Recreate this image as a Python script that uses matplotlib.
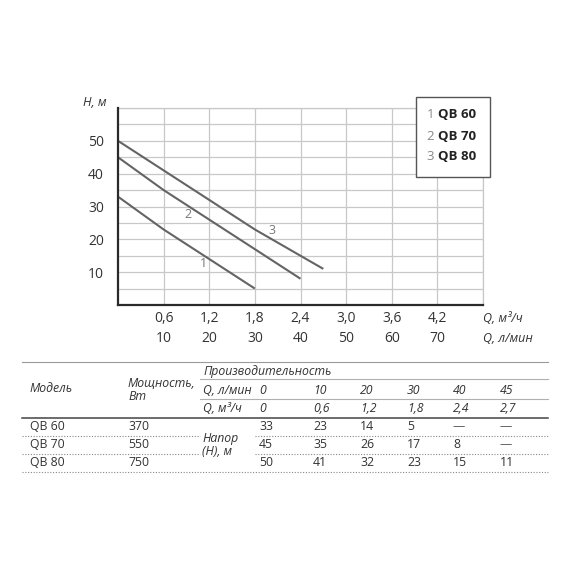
import numpy as np
import matplotlib
matplotlib.use("Agg")
import matplotlib.pyplot as plt
from matplotlib.ticker import MultipleLocator, FixedLocator
from matplotlib.lines import Line2D
from matplotlib.patches import Rectangle

plt.rcParams['font.family'] = ['Open Sans', 'DejaVu Sans']

# data (from the table under the chart)
models = ["QB 60", "QB 70", "QB 80"]
power = [370, 550, 750]
q_lmin = [0, 10, 20, 30, 40, 45]
q_m3h = [0, 0.6, 1.2, 1.8, 2.4, 2.7]
head = [[33, 23, 14, 5, None, None],
        [45, 35, 26, 17, 8, None],
        [50, 41, 32, 23, 15, 11]]

x_ticks = [0.6, 1.2, 1.8, 2.4, 3.0, 3.6, 4.2]
x_ticks_lmin = [10, 20, 30, 40, 50, 60, 70]
y_ticks = [10, 20, 30, 40, 50]

W = H = 570
fig = plt.figure(figsize=(5.7, 5.7), dpi=100)
fig.patch.set_facecolor("white")

def fx(px):
    return px / W

def fy(py):
    return 1 - py / H

txt = "#333333"
line_col = "#646464"

# ---- chart ----
ax = fig.add_axes([fx(118), fy(305), fx(483) - fx(118), fy(108) - fy(305)])
ax.set_xlim(0, 4.8)
ax.set_ylim(0, 60)

for i, h in enumerate(head):
    xs = [q for q, v in zip(q_m3h, h) if v is not None]
    ys = [v for v in h if v is not None]
    ax.plot(xs, ys, color=line_col, lw=1.5, solid_capstyle="butt")

# curve numbers
for lbl, (lx, ly) in zip(["1", "2", "3"], [(1.12, 12.5), (0.92, 27.5), (2.02, 22.8)]):
    ax.text(lx, ly, lbl, color="#777777", fontsize=9, ha="center", va="center")

ax.xaxis.set_major_locator(FixedLocator(x_ticks))
ax.set_xticklabels(["%s\n%d" % (("%.1f" % q).replace(".", ","), l)
                    for q, l in zip(x_ticks, x_ticks_lmin)],
                   linespacing=1.45)
ax.xaxis.set_minor_locator(FixedLocator([4.8]))
ax.yaxis.set_major_locator(FixedLocator(y_ticks))
ax.yaxis.set_minor_locator(MultipleLocator(5))
ax.tick_params(which="both", length=0, labelsize=10, labelcolor=txt)
ax.tick_params(axis="x", pad=4)
ax.tick_params(axis="y", pad=10)
ax.grid(which="both", color="#c8c8c8", lw=0.9)
ax.set_axisbelow(True)
for s in ["top", "right"]:
    ax.spines[s].set_visible(False)
for s in ["left", "bottom"]:
    ax.spines[s].set_color("#2a2a2a")
    ax.spines[s].set_linewidth(1.6)
# outer grid edges
ax.axhline(60, color="#c8c8c8", lw=0.9, clip_on=False)
ax.axvline(4.8, color="#c8c8c8", lw=0.9, clip_on=False)

fig.text(fx(95), fy(103), "H, м", fontsize=9, style="italic", color=txt,
         ha="center", va="center")
fig.text(fx(483), fy(319), "Q, м³/ч", fontsize=9, style="italic", color=txt,
         ha="left", va="center")
fig.text(fx(483), fy(339), "Q, л/мин", fontsize=9, style="italic", color=txt,
         ha="left", va="center")

# legend box
fig.patches.append(Rectangle((fx(416), fy(177)), fx(490) - fx(416), fy(97) - fy(177),
                             transform=fig.transFigure, facecolor="white",
                             edgecolor="#555555", lw=1.0, zorder=5))
for i, m in enumerate(models):
    yy = fy(115 + 21 * i)
    fig.text(fx(434), yy, str(i + 1), fontsize=9.5, color="#888888",
             ha="right", va="center", zorder=6)
    fig.text(fx(438), yy, m, fontsize=9.5, fontweight="bold", color="#222222",
             ha="left", va="center", zorder=6)

# ---- table ----
def hline(y, x0, x1, color="#9a9a9a", lw=0.8, ls="-"):
    fig.add_artist(Line2D([fx(x0), fx(x1)], [fy(y), fy(y)], color=color, lw=lw,
                          ls=ls, transform=fig.transFigure))

tfs = 8.8
cols = [259, 313, 360, 407, 453, 500]

hline(362, 22, 548)
fig.text(fx(203), fy(371), "Производительность", fontsize=tfs, style="italic",
         color=txt, va="center")
hline(379, 200, 548, color="#b0b0b0")
fig.text(fx(30), fy(389), "Модель", fontsize=tfs, style="italic", color=txt, va="center")
fig.text(fx(128), fy(390), "Мощность,\nВт", fontsize=tfs, style="italic", color=txt,
         va="center", linespacing=1.05)
fig.text(fx(203), fy(390), "Q, л/мин", fontsize=tfs, style="italic", color=txt, va="center")
for c, v in zip(cols, q_lmin):
    fig.text(fx(c), fy(390), str(v), fontsize=tfs, style="italic", color=txt, va="center")
hline(399, 200, 548, color="#b0b0b0")
fig.text(fx(203), fy(409), "Q, м³/ч", fontsize=tfs, style="italic", color=txt, va="center")
for c, v in zip(cols, q_m3h):
    s = "0" if v == 0 else ("%.1f" % v).replace(".", ",")
    fig.text(fx(c), fy(409), s, fontsize=tfs, style="italic", color=txt, va="center")
hline(418, 22, 548, color="#444444", lw=1.1)

rows_y = [427, 445, 463]
for r, (m, p, h) in enumerate(zip(models, power, head)):
    yy = fy(rows_y[r])
    fig.text(fx(30), yy, m, fontsize=tfs, color=txt, va="center")
    fig.text(fx(128), yy, str(p), fontsize=tfs, color=txt, va="center")
    for c, v in zip(cols, h):
        fig.text(fx(c), yy, "—" if v is None else str(v), fontsize=tfs,
                 color="#555555" if v is None else txt, va="center")
fig.text(fx(202), fy(445), "Напор\n(Н), м", fontsize=tfs, style="italic", color=txt,
         va="center", linespacing=1.05)

for y in [436, 454]:
    hline(y, 22, 200, color="#888888", lw=0.8, ls=(0, (1, 1.5)))
    hline(y, 255, 548, color="#888888", lw=0.8, ls=(0, (1, 1.5)))
hline(472, 22, 548, color="#888888", lw=0.8, ls=(0, (1, 1.5)))

fig.savefig("out.png", dpi=100, facecolor="white")
